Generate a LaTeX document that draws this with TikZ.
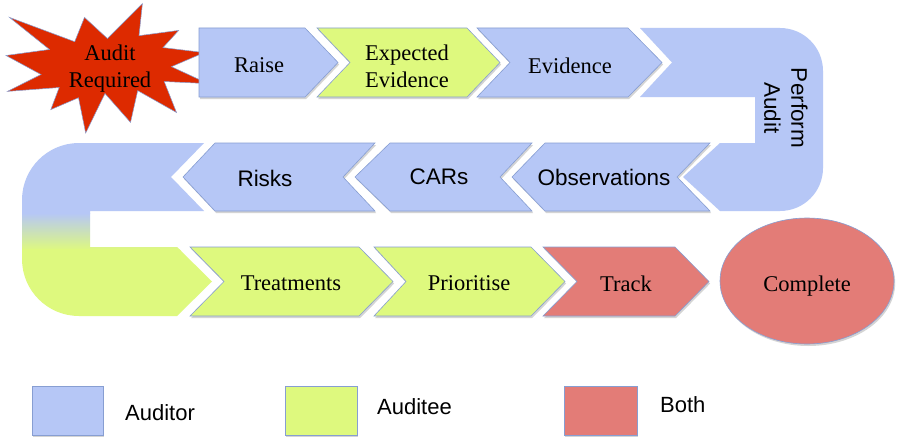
\documentclass[tikz,border=0pt]{standalone}
\usepackage{fontspec}
\setmainfont{Liberation Serif}
\setsansfont{Liberation Sans}
\usetikzlibrary{shadows,shapes.geometric}
\definecolor{audblue}{RGB}{182,199,246}
\definecolor{audgreen}{RGB}{222,249,126}
\definecolor{audpink}{RGB}{227,124,119}
\definecolor{burstred}{RGB}{221,42,0}
\definecolor{edgeblue}{RGB}{135,158,210}
\tikzset{
  shapebox/.style={draw=edgeblue, line width=0.6pt, line join=miter,
     drop shadow={shadow xshift=1.2pt, shadow yshift=-2pt, opacity=0.28, fill=black!60}},
  bluebox/.style={shapebox, fill=audblue},
  greenbox/.style={shapebox, fill=audgreen},
  pinkbox/.style={shapebox, fill=audpink},
  serlabel/.style={font=\fontsize{22.5}{27}\selectfont\rmfamily, align=center, inner sep=0pt},
  sanlabel/.style={font=\fontsize{22.5}{27}\selectfont\sffamily, align=center, inner sep=0pt},
  leglabel/.style={font=\fontsize{22}{26}\selectfont\sffamily, anchor=west, inner sep=0pt},
}
\begin{document}
\begin{tikzpicture}[x=1pt,y=-1pt]
\useasboundingbox (0,0) rectangle (901,444);
\fill[white] (0,0) rectangle (901,444);

% starburst
\fill[burstred, draw=edgeblue, line width=0.5pt, line join=miter]
 (107.4,38.5) -- (84.5,17.4) -- (74.7,41.7) -- (9.5,17.4) -- (49.5,49.5) -- (6.0,55.5)
 -- (41.0,74.5) -- (7.3,91.4) -- (59.2,87.5) -- (50.8,109.6) -- (78.5,97.7) -- (85.7,133)
 -- (105.0,93.5) -- (130.5,122.4) -- (137.7,90.6) -- (176.5,112.5) -- (164.2,81.5)
 -- (208,83.6) -- (171.4,66.7) -- (204.2,52.6) -- (163.0,47.6) -- (178.7,30.4)
 -- (139.0,35.7) -- (142.4,3.6) -- cycle;
\node[serlabel] (audreq) at (110,69) {Audit\\Required};

% top row
\path[bluebox] (199,28) -- (305,28) -- (338,62.5) -- (305,97) -- (199,97) -- cycle;
\path[greenbox] (317,28) -- (467,28) -- (500,62.5) -- (467,97) -- (317,97) -- (350,62.5) -- cycle;
\path[bluebox] (477,28) -- (628,28) -- (662,62.5) -- (628,97) -- (477,97) -- (510,62.5) -- cycle;
\node[serlabel] (raise) at (259,65) {Raise};
\node[serlabel] (expev) at (407,66) {Expected\\Evidence};
\node[serlabel] (evid) at (570,66) {Evidence};

% perform audit U
\fill[audblue] (640,28) -- (780,28) arc[start angle=270, end angle=360, radius=43]
 -- (823,168) arc[start angle=0, end angle=90, radius=43]
 -- (720,211) -- (683,177) -- (720,143) -- (755,143) -- (755,97) -- (640,97) -- (672,62.5) -- cycle;
\node[sanlabel, rotate=-90] (perf) at (786,108) {Perform\\Audit};

% middle row
\path[bluebox] (710,143) -- (545,143) -- (512,177) -- (545,211) -- (710,211) -- (677,177) -- cycle;
\path[bluebox] (532,143) -- (390,143) -- (355,177) -- (390,211) -- (532,211) -- (500,177) -- cycle;
\path[bluebox] (375,143) -- (215,143) -- (183,177) -- (215,211) -- (375,211) -- (343,177) -- cycle;
\node[sanlabel] (obs) at (604,177) {Observations};
\node[sanlabel] (cars) at (439,177) {CARs};
\node[sanlabel] (risks) at (265,178) {Risks};

% left U with gradient
\begin{scope}
\clip (204,143) -- (79,143) arc[start angle=270, end angle=180, radius=57]
 -- (22,259) arc[start angle=180, end angle=90, radius=57]
 -- (177,316) -- (212,281.5) -- (177,247) -- (90,247) -- (90,211) -- (204,211) -- (171,177) -- cycle;
\fill[audblue] (0,130) rectangle (230,214);
\shade[top color=audblue, bottom color=audgreen] (0,213) rectangle (230,250);
\fill[audgreen] (0,249) rectangle (230,330);
\end{scope}

% bottom row
\path[greenbox] (190,247) -- (359,247) -- (393,281.5) -- (359,316) -- (190,316) -- (224,281.5) -- cycle;
\path[greenbox] (374,247) -- (531,247) -- (565,281.5) -- (531,316) -- (374,316) -- (406,281.5) -- cycle;
\path[pinkbox] (543,247) -- (675,247) -- (709,281.5) -- (675,316) -- (543,316) -- (577,281.5) -- cycle;
\node[serlabel] (treat) at (291,283) {Treatments};
\node[serlabel] (prio) at (469,283) {Prioritise};
\node[serlabel] (track) at (626,284) {Track};

% complete
\node[ellipse, pinkbox, minimum width=174pt, minimum height=126pt, inner sep=0pt] (complete) at (807,281) {};
\node[serlabel] (completetxt) at (807,286) {Complete};

% legend
\path[bluebox] (32,386) rectangle (103,435);
\path[greenbox] (285,386) rectangle (357,435);
\path[pinkbox] (564,386) rectangle (637,435);
\node[leglabel] (lauditor) at (125,413) {Auditor};
\node[leglabel] (lauditee) at (377,407) {Auditee};
\node[leglabel] (lboth) at (660,405) {Both};
\end{tikzpicture}
\end{document}
